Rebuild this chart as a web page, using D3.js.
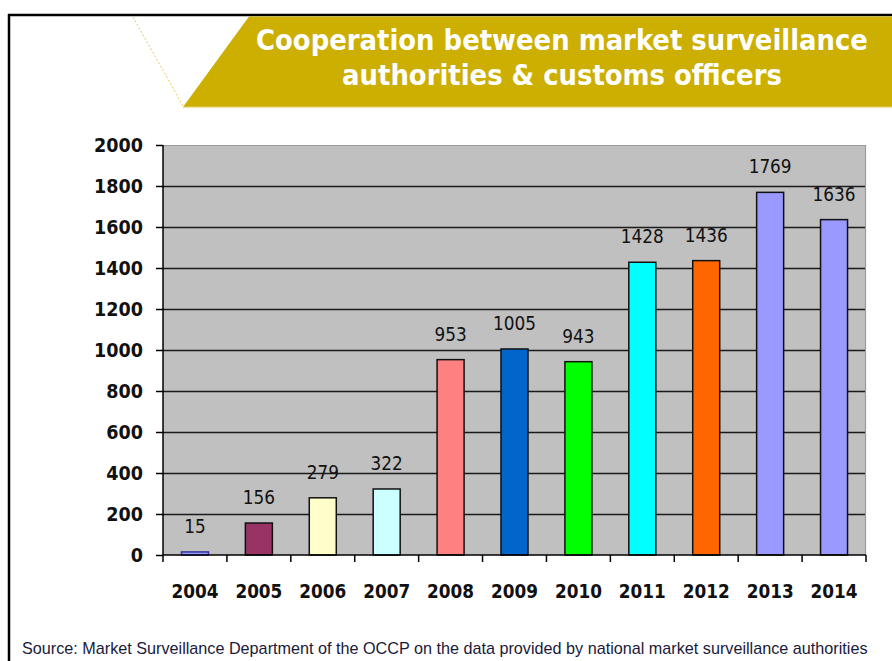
<!DOCTYPE html>
<html><head><meta charset="utf-8">
<script src="https://cdn.jsdelivr.net/npm/d3@7"></script>
<style>body{margin:0;background:#fff}svg{display:block}</style>
</head><body>
<script>
const years = ["2004","2005","2006","2007","2008","2009","2010","2011","2012","2013","2014"];
const values = [15,156,279,322,953,1005,943,1428,1436,1769,1636];
const colors = ["#9999FF","#993366","#FFFFCC","#CCFFFF","#FF8080","#0066CC","#00FF00","#00FFFF","#FF6600","#9999FF","#9999FF"];
const yTicks = [0,200,400,600,800,1000,1200,1400,1600,1800,2000];
const titleLines = ["Cooperation between market surveillance","authorities & customs officers"];
const source = "Source: Market Surveillance Department of the OCCP on the data provided by national market surveillance authorities";

const W=892,H=661;
const svg=d3.select("body").append("svg").attr("width",W).attr("height",H);

// frame
svg.append("line").attr("x1",8).attr("x2",W).attr("y1",15).attr("y2",15).attr("stroke","#000").attr("stroke-width",2.5);
svg.append("line").attr("x1",9).attr("x2",9).attr("y1",14).attr("y2",H).attr("stroke","#000").attr("stroke-width",2.5);

// banner
svg.append("polygon").attr("points",`249,16.5 ${W},16.5 ${W},107 183,107`).attr("fill","#CCAF00");
svg.append("line").attr("x1",183).attr("x2",W).attr("y1",107.5).attr("y2",107.5).attr("stroke","#EFE5B5").attr("stroke-width",1.5);
svg.append("line").attr("x1",133).attr("y1",17).attr("x2",183).attr("y2",106).attr("stroke","#E5C75A").attr("stroke-width",1).attr("stroke-dasharray","2,2");

const tfont="'DejaVu Sans Condensed','DejaVu Sans',sans-serif";
const t1=svg.append("text").attr("x",562).attr("y",50).attr("text-anchor","middle")
  .attr("font-family",tfont).attr("font-weight","bold").attr("fill","#fff").attr("font-size",29).text(titleLines[0]);
const t2=svg.append("text").attr("x",562).attr("y",85).attr("text-anchor","middle")
  .attr("font-family",tfont).attr("font-weight","bold").attr("fill","#fff").attr("font-size",29).text(titleLines[1]);
const w1=t1.node().getComputedTextLength();
const fs=29*612/w1;
t1.attr("font-size",fs); t2.attr("font-size",fs);

// chart
const m={l:163,r:866,t:145,b:555};
const x=d3.scaleBand().domain(years).range([m.l,m.r]);
const y=d3.scaleLinear().domain([0,2000]).range([m.b,m.t]);

svg.append("rect").attr("x",m.l).attr("y",m.t).attr("width",m.r-m.l).attr("height",m.b-m.t).attr("fill","#C0C0C0");
svg.append("path").attr("d",`M${m.l},${m.t+0.5}H${m.r-0.5}V${m.b}`).attr("fill","none").attr("stroke","#999").attr("stroke-width",1.2);

svg.append("g").selectAll("line").data(yTicks.filter(d=>d>0&&d<2000)).join("line")
  .attr("x1",m.l).attr("x2",m.r-1).attr("y1",d=>Math.round(y(d))+0.5).attr("y2",d=>Math.round(y(d))+0.5)
  .attr("stroke","#1a1a1a").attr("stroke-width",1.4);

const bars=svg.append("g");
bars.selectAll("rect").data(years).join("rect")
  .attr("x",(d,i)=>x(d)+x.bandwidth()/2-13.5).attr("width",27)
  .attr("y",(d,i)=>y(values[i])).attr("height",(d,i)=>y(0)-y(values[i]))
  .attr("fill",(d,i)=>colors[i]).attr("stroke",(d,i)=>i===0?"#333399":"#111").attr("stroke-width",1.5);

// value labels
const vfs=19;
const vl=svg.append("g").selectAll("text").data(years).join("text")
  .attr("x",d=>x(d)+x.bandwidth()/2).attr("y",(d,i)=>y(values[i])-19)
  .attr("text-anchor","middle").attr("font-family",tfont).attr("font-size",vfs).attr("fill","#111")
  .text((d,i)=>values[i]);
const vw=vl.filter((d,i)=>i===9).node().getComputedTextLength();
vl.attr("font-size",vfs*43/vw);

// axes
const ya=d3.axisLeft(y).tickValues(yTicks).tickSize(7).tickPadding(13).tickFormat(d3.format("d"));
const gy=svg.append("g").attr("transform",`translate(${m.l},0)`).call(ya);
gy.select(".domain").attr("d",`M-0,${m.t}V${m.b}`).attr("stroke","#000").attr("stroke-width",1.5);
gy.selectAll(".tick line").attr("stroke","#000").attr("stroke-width",1.5);
gy.selectAll("text").attr("font-family",tfont).attr("font-weight","bold").attr("font-size",18).attr("fill","#111");
const yw=gy.selectAll("text").filter(d=>d===2000).node().getComputedTextLength();
gy.selectAll("text").attr("font-size",18*49/yw);

const xa=d3.axisBottom(x).tickSize(0).tickPadding(30);
const gx=svg.append("g").attr("transform",`translate(0,${m.b})`).call(xa);
gx.select(".domain").attr("d",`M${m.l},0H${m.r}`).attr("stroke","#000").attr("stroke-width",1.5);
gx.selectAll("text").attr("font-family",tfont).attr("font-weight","bold").attr("font-size",18).attr("fill","#111");
const xw=gx.selectAll("text").filter(d=>d==="2004").node().getComputedTextLength();
gx.selectAll("text").attr("font-size",18*47/xw);
gx.append("g").selectAll("line").data(d3.range(years.length+1)).join("line")
  .attr("x1",i=>m.l+i*x.step()).attr("x2",i=>m.l+i*x.step()).attr("y1",0).attr("y2",7)
  .attr("stroke","#000").attr("stroke-width",1.5);

// source
const st=svg.append("text").attr("x",22).attr("y",654).attr("font-family","'Liberation Sans',Arial,sans-serif")
  .attr("font-size",14).attr("fill","#1a1a3a").text(source);
const sw=st.node().getComputedTextLength();
st.attr("font-size",14*846/sw);
</script>
</body></html>
